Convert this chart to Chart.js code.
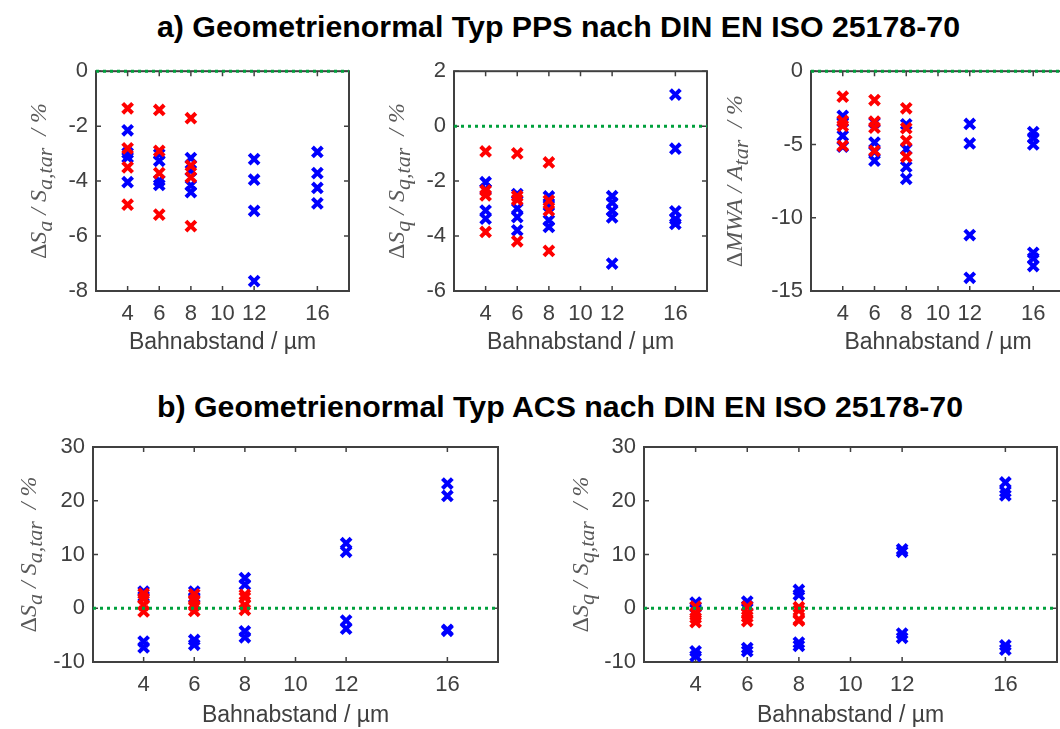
<!DOCTYPE html>
<html>
<head>
<meta charset="utf-8">
<script src="https://cdn.jsdelivr.net/npm/chart.js@4.4.1/dist/chart.umd.min.js"></script>
<style>
  html, body { margin: 0; padding: 0; width: 1060px; height: 729px; overflow: hidden; background: #fff; }
  canvas { position: absolute; }
  .title {
    position: absolute; left: 157px; white-space: nowrap; color: #000;
    font: bold 29px "Liberation Sans Narrow", "Arial Narrow", "Liberation Sans", Arial, sans-serif;
    line-height: 29px; transform-origin: 0 0;
  }
</style>
</head>
<body>
<div class="title" id="titleA" style="top:13px">a) Geometrienormal Typ PPS nach DIN EN ISO 25178-70</div>
<div class="title" id="titleB" style="top:393px">b) Geometrienormal Typ ACS nach DIN EN ISO 25178-70</div>
<canvas id="c1"></canvas>
<canvas id="c2"></canvas>
<canvas id="c3"></canvas>
<canvas id="c4"></canvas>
<canvas id="c5"></canvas>
<script>
  // shared x axis
  const xTicks = [4, 6, 8, 10, 12, 16];
  const xMin = 2, xMax = 18;
  const xTitle = "Bahnabstand / µm";
  const zeroLine = [[xMin, 0], [xMax, 0]];

  // a) PPS – ΔSa / Sa,tar
  const ppsSaTicks = [0, -2, -4, -6, -8];
  const ppsSaRed = [
    [4, -1.35], [4, -2.81], [4, -3.5], [4, -4.86],
    [6, -1.41], [6, -2.9], [6, -3.71], [6, -5.22],
    [8, -1.71], [8, -3.44], [8, -3.86], [8, -5.64],
  ];
  const ppsSaBlue = [
    [4, -2.15], [4, -2.98], [4, -3.14], [4, -4.04],
    [6, -3.02], [6, -3.26], [6, -3.98], [6, -4.14],
    [8, -3.16], [8, -3.62], [8, -4.16], [8, -4.4],
    [12, -3.2], [12, -3.95], [12, -5.08], [12, -7.64],
    [16, -2.94], [16, -3.71], [16, -4.25], [16, -4.81],
  ];

  // a) PPS – ΔSq / Sq,tar
  const ppsSqTicks = [2, 0, -2, -4, -6];
  const ppsSqRed = [
    [4, -0.92], [4, -2.34], [4, -2.52], [4, -3.85],
    [6, -0.99], [6, -2.55], [6, -2.68], [6, -4.19],
    [8, -1.32], [8, -2.71], [8, -3.07], [8, -4.54],
  ];
  const ppsSqBlue = [
    [4, -2.04], [4, -2.3], [4, -3.07], [4, -3.37],
    [6, -2.47], [6, -3.0], [6, -3.31], [6, -3.79],
    [8, -2.56], [8, -2.89], [8, -3.43], [8, -3.67],
    [12, -2.55], [12, -2.78], [12, -3.08], [12, -3.32], [12, -5.0],
    [16, 1.15], [16, -0.82], [16, -3.1], [16, -3.38], [16, -3.56],
  ];

  // a) PPS – ΔMWA / Atar
  const ppsMwaTicks = [0, -5, -10, -15];
  const ppsMwaRed = [
    [4, -1.74], [4, -3.39], [4, -3.73], [4, -5.09],
    [6, -1.97], [6, -3.44], [6, -3.85], [6, -5.43],
    [8, -2.53], [8, -3.89], [8, -4.75], [8, -5.84],
  ];
  const ppsMwaBlue = [
    [4, -3.05], [4, -3.45], [4, -4.41], [4, -5.15],
    [6, -3.5], [6, -4.87], [6, -5.5], [6, -6.11],
    [8, -3.62], [8, -5.32], [8, -6.52], [8, -7.35],
    [12, -3.6], [12, -4.93], [12, -11.18], [12, -14.1],
    [16, -4.16], [16, -4.55], [16, -5.0], [16, -12.39], [16, -12.77], [16, -13.3],
  ];

  // b) ACS – ΔSa / Sa,tar
  const acsSaTicks = [30, 20, 10, 0, -10];
  const acsSaRed = [
    [4, 2.7], [4, 1.8], [4, 0.6], [4, -0.6],
    [6, 2.6], [6, 1.5], [6, 0.5], [6, -0.5],
    [8, 2.5], [8, 2.0], [8, 0.6], [8, -0.3],
  ];
  const acsSaBlue = [
    [4, 3.1], [4, 2.2], [4, -6.2], [4, -7.3],
    [6, 3.1], [6, 2.0], [6, -5.9], [6, -6.8],
    [8, 5.6], [8, 4.4], [8, -4.3], [8, -5.4],
    [12, 12.1], [12, 10.5], [12, -2.3], [12, -3.8],
    [16, 23.2], [16, 20.9], [16, -4.0], [16, -4.2],
  ];

  // b) ACS – ΔSq / Sq,tar
  const acsSqTicks = [30, 20, 10, 0, -10];
  const acsSqRed = [
    [4, 0.3], [4, -0.9], [4, -1.8], [4, -2.6],
    [6, 0.3], [6, -0.8], [6, -1.6], [6, -2.4],
    [8, 0.2], [8, -0.4], [8, -2.1], [8, -2.3],
  ];
  const acsSqBlue = [
    [4, 1.06], [4, 0.2], [4, -8.0], [4, -8.9],
    [6, 1.25], [6, 0.4], [6, -7.4], [6, -8.0],
    [8, 3.4], [8, 2.5], [8, -6.4], [8, -7.0],
    [12, 10.96], [12, 10.5], [12, -4.7], [12, -5.5],
    [16, 23.4], [16, 21.7], [16, 21.0], [16, -6.9], [16, -7.7],
  ];

  // y axis labels: [text, kind]  up = upright, it = italic, sub = subscript
  const labelSa = [["Δ", "up"], ["S", "it"], ["a", "sub"], [" / ", "it"], ["S", "it"], ["a,tar", "sub"], ["  / %", "it"]];
  const labelSq = [["Δ", "up"], ["S", "it"], ["q", "sub"], [" / ", "it"], ["S", "it"], ["q,tar", "sub"], ["  / %", "it"]];
  const labelMwa = [["Δ", "up"], ["MWA", "it"], [" / ", "it"], ["A", "it"], ["tar", "sub"], ["  / %", "it"]];

  const AXIS = "#404040";
  const LABEL = "#595959";
  const RED = "#ff0000";
  const BLUE = "#0000ff";
  const GREEN = "#00a03c";
  const SANS = '"Liberation Sans", Arial, sans-serif';
  const SERIF = '"Liberation Serif", "Times New Roman", serif';

  const toPts = (arr) => arr.map(([x, y]) => ({ x, y }));

  // box, inward ticks and the rich y label (MATLAB look)
  const framePlugin = {
    id: "frame",
    beforeDatasetsDraw(chart, args, opts) {
      const { ctx, chartArea: a, scales: { x, y } } = chart;
      const tl = 5;
      ctx.save();
      ctx.strokeStyle = AXIS;
      ctx.lineWidth = 1.5;
      ctx.beginPath();
      x.ticks.forEach((t) => {
        const px = x.getPixelForValue(t.value);
        ctx.moveTo(px, a.bottom); ctx.lineTo(px, a.bottom - tl);
        ctx.moveTo(px, a.top); ctx.lineTo(px, a.top + tl);
      });
      y.ticks.forEach((t) => {
        const py = y.getPixelForValue(t.value);
        ctx.moveTo(a.left, py); ctx.lineTo(a.left + tl, py);
        ctx.moveTo(a.right, py); ctx.lineTo(a.right - tl, py);
      });
      ctx.stroke();
      ctx.lineWidth = 2;
      ctx.strokeRect(a.left, a.top, a.right - a.left, a.bottom - a.top);

      // y label
      const size = opts.size || 24;
      const fonts = {
        up: size + "px " + SERIF,
        it: "italic " + size + "px " + SERIF,
        sub: "italic " + Math.round(size * 0.9) + "px " + SERIF,
      };
      ctx.translate(a.left - opts.offset, (a.top + a.bottom) / 2);
      ctx.rotate(-Math.PI / 2);
      let w = 0;
      opts.label.forEach(([t, k]) => { ctx.font = fonts[k]; w += ctx.measureText(t).width; });
      let cx = -w / 2;
      ctx.fillStyle = LABEL;
      ctx.textBaseline = "alphabetic";
      opts.label.forEach(([t, k]) => {
        ctx.font = fonts[k];
        ctx.fillText(t, cx, k === "sub" ? 6 : 0);
        cx += ctx.measureText(t).width;
      });
      ctx.restore();
    },
  };

  function makeChart(id, place, area, cfg) {
    const cv = document.getElementById(id);
    cv.width = place.w; cv.height = place.h;
    cv.style.left = place.left + "px"; cv.style.top = place.top + "px";
    const yW = area.left - place.left;
    const xH = place.top + place.h - area.bottom;

    new Chart(cv, {
      type: "scatter",
      data: {
        datasets: [
          {
            type: "line", data: toPts(zeroLine), borderColor: GREEN, borderWidth: 3,
            borderDash: [3, 4], pointRadius: 0, order: -1, clip: 4,
          },
          {
            data: toPts(cfg.red), pointStyle: "crossRot", pointRadius: 7,
            borderColor: RED, backgroundColor: RED, pointBorderWidth: 4, order: 0,
          },
          {
            data: toPts(cfg.blue), pointStyle: "crossRot", pointRadius: 7,
            borderColor: BLUE, backgroundColor: BLUE, pointBorderWidth: 4, order: 1,
          },
        ],
      },
      options: {
        responsive: false,
        animation: false,
        events: [],
        layout: { padding: { top: area.top - place.top, right: place.left + place.w - area.right, left: 0, bottom: 0 } },
        plugins: {
          legend: { display: false },
          tooltip: { enabled: false },
          frame: { label: cfg.label, offset: cfg.labelOffset, size: 24 },
        },
        scales: {
          x: {
            type: "linear", min: xMin, max: xMax,
            grid: { display: false, drawTicks: false }, border: { display: false },
            afterBuildTicks: (s) => { s.ticks = xTicks.map((v) => ({ value: v })); },
            afterFit: (s) => { s.height = xH; },
            ticks: { padding: 10, font: { family: SANS, size: 22 }, color: AXIS, maxRotation: 0 },
            title: {
              display: true, text: xTitle, color: AXIS,
              font: { family: SANS, size: 23 }, padding: { top: 0, bottom: cfg.titlePad },
            },
          },
          y: {
            type: "linear", min: cfg.yMin, max: cfg.yMax,
            grid: { display: false, drawTicks: false }, border: { display: false },
            afterBuildTicks: (s) => { s.ticks = cfg.yTicks.map((v) => ({ value: v })); },
            afterFit: (s) => { s.width = yW; },
            ticks: { padding: 8, font: { family: SANS, size: 22 }, color: AXIS },
          },
        },
      },
      plugins: [framePlugin],
    });
  }

  makeChart("c1", { left: 0, top: 50, w: 360, h: 320 }, { left: 96, right: 349, top: 70, bottom: 291 },
    { red: ppsSaRed, blue: ppsSaBlue, yMin: -8, yMax: 0, yTicks: ppsSaTicks, label: labelSa, labelOffset: 50, titlePad: 14 });
  makeChart("c2", { left: 360, top: 50, w: 360, h: 320 }, { left: 454, right: 707, top: 70, bottom: 291 },
    { red: ppsSqRed, blue: ppsSqBlue, yMin: -6, yMax: 2, yTicks: ppsSqTicks, label: labelSq, labelOffset: 50, titlePad: 14 });
  makeChart("c3", { left: 720, top: 50, w: 360, h: 320 }, { left: 811, right: 1065, top: 70, bottom: 291 },
    { red: ppsMwaRed, blue: ppsMwaBlue, yMin: -15, yMax: 0, yTicks: ppsMwaTicks, label: labelMwa, labelOffset: 69, titlePad: 14 });
  makeChart("c4", { left: 0, top: 425, w: 520, h: 304 }, { left: 93, right: 498, top: 447, bottom: 662 },
    { red: acsSaRed, blue: acsSaBlue, yMin: -10, yMax: 30, yTicks: acsSaTicks, label: labelSa, labelOffset: 57, titlePad: 0 });
  makeChart("c5", { left: 540, top: 425, w: 540, h: 304 }, { left: 644, right: 1057, top: 447, bottom: 662 },
    { red: acsSqRed, blue: acsSqBlue, yMin: -10, yMax: 30, yTicks: acsSqTicks, label: labelSq, labelOffset: 56, titlePad: 0 });

  // stretch the section titles to the width they have in the figure
  [["titleA", 803], ["titleB", 806]].forEach(([id, target]) => {
    const el = document.getElementById(id);
    const w = el.getBoundingClientRect().width;
    el.style.transform = "scaleX(" + (target / w) + ")";
  });
</script>
</body>
</html>
